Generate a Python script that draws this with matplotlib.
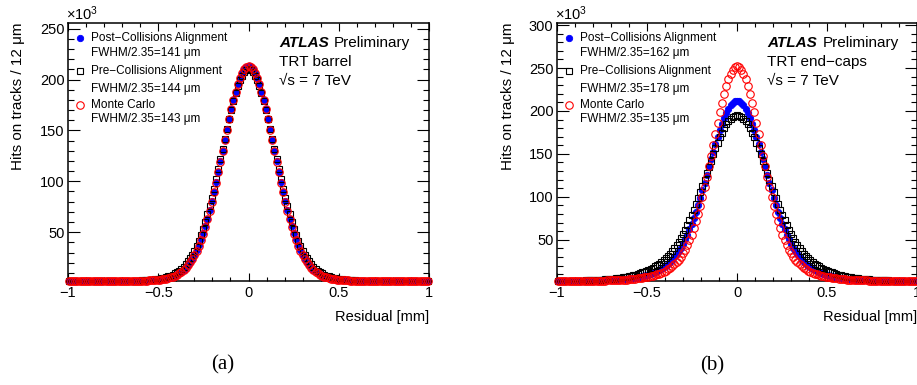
import numpy as np
import matplotlib
matplotlib.use("Agg")
import matplotlib.pyplot as plt
from matplotlib.ticker import MultipleLocator, FormatStrFormatter

plt.rcParams['font.family'] = ['Liberation Sans', 'DejaVu Sans']
plt.rcParams['mathtext.fontset'] = 'custom'
plt.rcParams['mathtext.rm'] = 'Liberation Sans'
plt.rcParams['mathtext.it'] = 'Liberation Sans:italic'
plt.rcParams['mathtext.bf'] = 'Liberation Sans:bold'

# ---------------- data (hits on tracks, in units of 10^3, per 12 um bin) -------------
bin_width_mm = 0.012
bin_index = np.arange(-83, 84)          # 167 bins of 12 um, -1 .. 1 mm
bin_centres = bin_index * bin_width_mm

# (a) TRT barrel
barrel_post = [
    2.1, 2.1, 2.1, 2.1, 2.1, 2.1, 2.1, 2.1, 2.1, 2.1,
    2.1, 2.1, 2.1, 2.1, 2.1, 2.1, 2.1, 2.1, 2.1, 2.1,
    2.1, 2.1, 2.1, 2.1, 2.1, 2.1, 2.1, 2.1, 2.1, 2.1,
    2.2, 2.2, 2.2,
    2.2, 2.3, 2.3, 2.4, 2.5, 2.7, 2.8, 3.0, 3.2, 3.4, 3.7, 4.1, 4.5, 5.0, 5.7, 6.4, 7.3, 8.4, 9.8, 11.3,
    13.1, 15.3, 17.8, 20.7, 24.1, 28.0, 32.3, 37.3, 42.9, 49.1, 55.9, 63.4, 71.5, 80.2, 89.4, 99.2,
    109.3, 119.6, 130.2, 140.7, 151.1, 161.2, 170.9, 179.9, 188.1, 195.4, 201.6, 206.5, 210.1, 212.3,
    213.0,
    212.3, 210.1, 206.5, 201.6, 195.4, 188.1, 179.9, 170.9, 161.2, 151.1, 140.7, 130.2, 119.6, 109.3,
    99.2, 89.4, 80.2, 71.5, 63.4, 55.9, 49.1, 42.9, 37.3, 32.3, 28.0, 24.1, 20.7, 17.8, 15.3, 13.1,
    11.3, 9.8, 8.4, 7.3, 6.4, 5.7, 5.0, 4.5, 4.1, 3.7, 3.4, 3.2, 3.0, 2.8, 2.7, 2.5, 2.4, 2.3, 2.3, 2.2,
    2.2, 2.2, 2.2,
    2.1, 2.1, 2.1, 2.1, 2.1, 2.1, 2.1, 2.1, 2.1, 2.1,
    2.1, 2.1, 2.1, 2.1, 2.1, 2.1, 2.1, 2.1, 2.1, 2.1,
    2.1, 2.1, 2.1, 2.1, 2.1, 2.1, 2.1, 2.1, 2.1, 2.1,
]
barrel_pre = [
    2.1, 2.1, 2.1, 2.1, 2.1, 2.1, 2.1, 2.1, 2.1, 2.1,
    2.1, 2.1, 2.1, 2.1, 2.1, 2.1, 2.1, 2.1, 2.1, 2.1,
    2.1, 2.1, 2.1, 2.1, 2.1, 2.1,
    2.2, 2.2, 2.2, 2.2, 2.3, 2.3, 2.4,
    2.4, 2.5, 2.6, 2.8, 2.9, 3.1, 3.4, 3.6, 3.9, 4.3, 4.7, 5.2, 5.8, 6.5, 7.3, 8.3, 9.4, 10.7, 12.2,
    14.0, 16.1, 18.4, 21.2, 24.3, 27.9, 31.9, 36.4, 41.5, 47.1, 53.3, 60.1, 67.5, 75.4, 83.9, 92.8,
    102.2, 111.9, 121.8, 131.9, 141.9, 151.8, 161.3, 170.5, 179.0, 186.7, 193.5, 199.3, 203.9, 207.3, 209.3,
    210.0,
    209.3, 207.3, 203.9, 199.3, 193.5, 186.7, 179.0, 170.5, 161.3, 151.8, 141.9, 131.9, 121.8, 111.9,
    102.2, 92.8, 83.9, 75.4, 67.5, 60.1, 53.3, 47.1, 41.5, 36.4, 31.9, 27.9, 24.3, 21.2, 18.4, 16.1,
    14.0, 12.2, 10.7, 9.4, 8.3, 7.3, 6.5, 5.8, 5.2, 4.7, 4.3, 3.9, 3.6, 3.4, 3.1, 2.9, 2.8, 2.6, 2.5, 2.4,
    2.4, 2.3, 2.3, 2.2, 2.2, 2.2, 2.2,
    2.1, 2.1, 2.1, 2.1, 2.1, 2.1, 2.1, 2.1, 2.1, 2.1,
    2.1, 2.1, 2.1, 2.1, 2.1, 2.1, 2.1, 2.1, 2.1, 2.1,
    2.1, 2.1, 2.1, 2.1, 2.1, 2.1,
]
barrel_mc = [
    2.1, 2.1, 2.1, 2.1, 2.1, 2.1, 2.1, 2.1, 2.1, 2.1,
    2.1, 2.1, 2.1, 2.1, 2.1, 2.1, 2.1, 2.1, 2.1, 2.1,
    2.1, 2.1, 2.1, 2.1, 2.1, 2.1, 2.1, 2.1, 2.1, 2.1,
    2.2, 2.2, 2.2,
    2.2, 2.3, 2.3, 2.4, 2.5, 2.6, 2.7, 2.9, 3.1, 3.3, 3.6, 3.9, 4.4, 4.9, 5.5, 6.2, 7.1, 8.2, 9.5, 11.0,
    12.8, 14.9, 17.4, 20.3, 23.7, 27.5, 31.9, 36.8, 42.4, 48.6, 55.4, 62.9, 71.0, 79.7, 89.0, 98.7,
    108.8, 119.2, 129.8, 140.4, 150.9, 161.0, 170.7, 179.8, 188.0, 195.3, 201.5, 206.5, 210.1, 212.3,
    213.0,
    212.3, 210.1, 206.5, 201.5, 195.3, 188.0, 179.8, 170.7, 161.0, 150.9, 140.4, 129.8, 119.2, 108.8,
    98.7, 89.0, 79.7, 71.0, 62.9, 55.4, 48.6, 42.4, 36.8, 31.9, 27.5, 23.7, 20.3, 17.4, 14.9, 12.8,
    11.0, 9.5, 8.2, 7.1, 6.2, 5.5, 4.9, 4.4, 3.9, 3.6, 3.3, 3.1, 2.9, 2.7, 2.6, 2.5, 2.4, 2.3, 2.3, 2.2,
    2.2, 2.2, 2.2,
    2.1, 2.1, 2.1, 2.1, 2.1, 2.1, 2.1, 2.1, 2.1, 2.1,
    2.1, 2.1, 2.1, 2.1, 2.1, 2.1, 2.1, 2.1, 2.1, 2.1,
    2.1, 2.1, 2.1, 2.1, 2.1, 2.1, 2.1, 2.1, 2.1, 2.1,
]

# (b) TRT end-caps
endcap_post = [
    2.1, 2.1, 2.1, 2.1, 2.1, 2.1, 2.1, 2.1, 2.1, 2.1, 2.1,
    2.2, 2.2, 2.2, 2.3, 2.3, 2.3, 2.4, 2.4, 2.5, 2.6, 2.7, 2.8,
    2.9, 3.0, 3.1, 3.3, 3.4, 3.6, 3.8, 4.0, 4.2, 4.5, 4.8, 5.1, 5.5, 5.9, 6.4, 6.9, 7.4, 8.0, 8.7, 9.5,
    10.3, 11.2, 12.3, 13.4, 14.8, 16.2, 17.9, 19.8, 21.9, 24.2, 26.9, 29.9, 33.2, 36.9, 41.0, 45.6,
    50.6, 56.1, 62.0, 68.5, 75.4, 82.8, 90.6, 98.8, 107.4, 116.2, 125.3, 134.4, 143.5, 152.6, 161.4,
    169.9, 177.9, 185.3, 192.0, 197.9, 202.8, 206.8, 209.7, 211.4,
    212.0,
    211.4, 209.7, 206.8, 202.8, 197.9, 192.0, 185.3, 177.9, 169.9, 161.4, 152.6, 143.5, 134.4, 125.3,
    116.2, 107.4, 98.8, 90.6, 82.8, 75.4, 68.5, 62.0, 56.1, 50.6, 45.6, 41.0, 36.9, 33.2, 29.9, 26.9,
    24.2, 21.9, 19.8, 17.9, 16.2, 14.8, 13.4, 12.3, 11.2, 10.3, 9.5, 8.7, 8.0, 7.4, 6.9, 6.4, 5.9, 5.5,
    5.1, 4.8, 4.5, 4.2, 4.0, 3.8, 3.6, 3.4, 3.3, 3.1, 3.0, 2.9,
    2.8, 2.7, 2.6, 2.5, 2.4, 2.4, 2.3, 2.3, 2.3, 2.2, 2.2, 2.2,
    2.1, 2.1, 2.1, 2.1, 2.1, 2.1, 2.1, 2.1, 2.1, 2.1, 2.1,
]
endcap_pre = [
    2.1, 2.1, 2.1, 2.2, 2.2, 2.2, 2.2, 2.3, 2.3, 2.4, 2.4, 2.5, 2.5, 2.6, 2.7, 2.8, 2.9, 3.0, 3.1,
    3.3, 3.4, 3.6, 3.8, 4.0, 4.3, 4.5, 4.8, 5.1, 5.4, 5.8, 6.2, 6.6, 7.1, 7.6, 8.2, 8.8, 9.5, 10.2,
    11.0, 11.9, 12.8, 13.9, 15.0, 16.2, 17.5, 19.0, 20.6, 22.3, 24.3, 26.4, 28.7, 31.2, 34.0, 37.1,
    40.4, 44.0, 47.9, 52.2, 56.8, 61.7, 67.0, 72.7, 78.6, 84.9, 91.5, 98.3, 105.4, 112.7, 120.0,
    127.5, 134.9, 142.2, 149.4, 156.3, 163.0, 169.1, 174.8, 179.9, 184.4, 188.1, 191.1, 193.3, 194.6,
    195.0,
    194.6, 193.3, 191.1, 188.1, 184.4, 179.9, 174.8, 169.1, 163.0, 156.3, 149.4, 142.2, 134.9, 127.5,
    120.0, 112.7, 105.4, 98.3, 91.5, 84.9, 78.6, 72.7, 67.0, 61.7, 56.8, 52.2, 47.9, 44.0, 40.4, 37.1,
    34.0, 31.2, 28.7, 26.4, 24.3, 22.3, 20.6, 19.0, 17.5, 16.2, 15.0, 13.9, 12.8, 11.9, 11.0, 10.2,
    9.5, 8.8, 8.2, 7.6, 7.1, 6.6, 6.2, 5.8, 5.4, 5.1, 4.8, 4.5, 4.3, 4.0, 3.8, 3.6, 3.4, 3.3, 3.1,
    3.0, 2.9, 2.8, 2.7, 2.6, 2.5, 2.5, 2.4, 2.4, 2.3, 2.3, 2.2, 2.2, 2.2, 2.2, 2.1, 2.1, 2.1,
]
endcap_mc = [
    2.1, 2.1, 2.1, 2.1, 2.1, 2.1, 2.1, 2.1, 2.1, 2.1, 2.1, 2.1, 2.1, 2.1,
    2.2, 2.2, 2.2, 2.2, 2.3, 2.3, 2.4, 2.4, 2.5,
    2.6, 2.6, 2.7, 2.8, 2.9, 3.1, 3.2, 3.4, 3.6, 3.7, 4.0, 4.2, 4.5, 4.7, 5.1, 5.4, 5.8, 6.2, 6.6,
    7.2, 7.7, 8.4, 9.1, 9.9, 10.7, 11.7, 12.8, 14.1, 15.5, 17.2, 19.1, 21.3, 23.8, 26.7, 30.1, 34.1,
    38.5, 43.6, 49.4, 55.9, 63.2, 71.3, 80.2, 89.9, 100.3, 111.5, 123.2, 135.5, 148.1, 160.9, 173.6,
    186.1, 198.2, 209.6, 220.0, 229.3, 237.2, 243.6, 248.2, 251.0,
    252.0,
    251.0, 248.2, 243.6, 237.2, 229.3, 220.0, 209.6, 198.2, 186.1, 173.6, 160.9, 148.1, 135.5, 123.2,
    111.5, 100.3, 89.9, 80.2, 71.3, 63.2, 55.9, 49.4, 43.6, 38.5, 34.1, 30.1, 26.7, 23.8, 21.3, 19.1,
    17.2, 15.5, 14.1, 12.8, 11.7, 10.7, 9.9, 9.1, 8.4, 7.7, 7.2, 6.6, 6.2, 5.8, 5.4, 5.1, 4.7, 4.5,
    4.2, 4.0, 3.7, 3.6, 3.4, 3.2, 3.1, 2.9, 2.8, 2.7, 2.6, 2.6,
    2.5, 2.4, 2.4, 2.3, 2.3, 2.2, 2.2, 2.2, 2.2,
    2.1, 2.1, 2.1, 2.1, 2.1, 2.1, 2.1, 2.1, 2.1, 2.1, 2.1, 2.1, 2.1, 2.1,
]

legend_labels = ["Post\u2212Collisions Alignment", "Pre\u2212Collisions Alignment", "Monte Carlo"]
fwhm_barrel = [141, 144, 143]
fwhm_endcap = [162, 178, 135]
xtick_values = [-1, -0.5, 0, 0.5, 1]
xtick_labels = ["\u22121", "\u22120.5", "0", "0.5", "1"]

for name, s in [("barrel_post", barrel_post), ("barrel_pre", barrel_pre), ("barrel_mc", barrel_mc),
                ("endcap_post", endcap_post), ("endcap_pre", endcap_pre), ("endcap_mc", endcap_mc)]:
    assert len(s) == len(bin_centres), f"{name}: {len(s)}"

# ---------------- figure ----------------
W, H = 917, 385
fig = plt.figure(figsize=(W / 100, H / 100), dpi=100)
axA = fig.add_axes([68 / W, (H - 281) / H, 361 / W, 258 / H])
axB = fig.add_axes([557 / W, (H - 281) / H, 360 / W, 258 / H])

styles = [
    dict(marker='o', ms=4.6, mfc='#0000ff', mec='#0000ff', mew=0.6),
    dict(marker='s', ms=5.0, mfc='none', mec='black', mew=0.8),
    dict(marker='o', ms=5.4, mfc='none', mec='#ff0000', mew=0.8),
]
draw_order = [1, 0, 2]


def setup(ax, series, fwhm, ymax, region):
    for i in draw_order:
        ax.plot(bin_centres, series[i], linestyle='none', clip_on=False, zorder=3 + i, **styles[i])
    ax.set_xlim(-1, 1)
    ax.set_ylim(2.0, ymax)
    ax.set_xticks(xtick_values, labels=xtick_labels)
    ax.xaxis.set_minor_locator(MultipleLocator(0.1))
    ax.yaxis.set_major_locator(MultipleLocator(50))
    ax.yaxis.set_minor_locator(MultipleLocator(10))
    ax.yaxis.set_major_formatter(FormatStrFormatter('%d'))
    ax.xaxis.set_tick_params(which='major', direction='in', length=5.5, width=0.8,
                             top=True, bottom=True, labelsize=10.5, pad=3.5)
    ax.xaxis.set_tick_params(which='minor', direction='in', length=2.8, width=0.8, top=True, bottom=True)
    ax.yaxis.set_tick_params(which='major', direction='in', length=8.6, width=0.8,
                             left=True, right=True, labelsize=10.5, pad=2.5)
    ax.yaxis.set_tick_params(which='minor', direction='in', length=4.3, width=0.8, left=True, right=True)
    for sp in ax.spines.values():
        sp.set_linewidth(1.1)
    ax.set_xlabel("Residual [mm]", fontsize=10.5, loc='right')
    ax.xaxis.set_label_coords(1.0, -0.112)
    ax.set_ylabel("Hits on tracks / 12 \u03bcm", fontsize=11, loc='top')
    ax.yaxis.set_label_coords(-0.118, 1.0)
    ax.text(-0.005, 1.037, r"$\times$10$^{3}$", transform=ax.transAxes, fontsize=10.5,
            ha='left', va='center')

    # legend (ROOT style)
    rows = [0.943, 0.882, 0.815, 0.746, 0.684, 0.626]
    for j in range(3):
        ax.plot([0.032], [rows[2 * j]], transform=ax.transAxes, linestyle='none', clip_on=False,
                **styles[j])
        ax.text(0.063, rows[2 * j], legend_labels[j], transform=ax.transAxes, fontsize=8.5,
                ha='left', va='center')
        ax.text(0.063, rows[2 * j + 1], f"FWHM/2.35={fwhm[j]} \u03bcm", transform=ax.transAxes,
                fontsize=8.5, ha='left', va='center')

    # ATLAS label
    ax.text(0.584, 0.924, "ATLAS", transform=ax.transAxes, fontsize=11, fontweight='bold',
            fontstyle='italic', ha='left', va='center')
    ax.text(0.737, 0.924, "Preliminary", transform=ax.transAxes, fontsize=11, ha='left', va='center')
    ax.text(0.584, 0.848, region, transform=ax.transAxes, fontsize=11, ha='left', va='center')
    ax.text(0.584, 0.775, "\u221as = 7 TeV", transform=ax.transAxes, fontsize=11,
            ha='left', va='center')


setup(axA, [barrel_post, barrel_pre, barrel_mc], fwhm_barrel, 255.6, "TRT barrel")
setup(axB, [endcap_post, endcap_pre, endcap_mc], fwhm_endcap, 302.4, "TRT end\u2212caps")

fig.text(223 / W, 1 - 365 / H, "(a)", family='Liberation Serif', fontsize=15, ha='center', va='center')
fig.text(712 / W, 1 - 366 / H, "(b)", family='Liberation Serif', fontsize=15, ha='center', va='center')

fig.savefig("out.png", dpi=100)
